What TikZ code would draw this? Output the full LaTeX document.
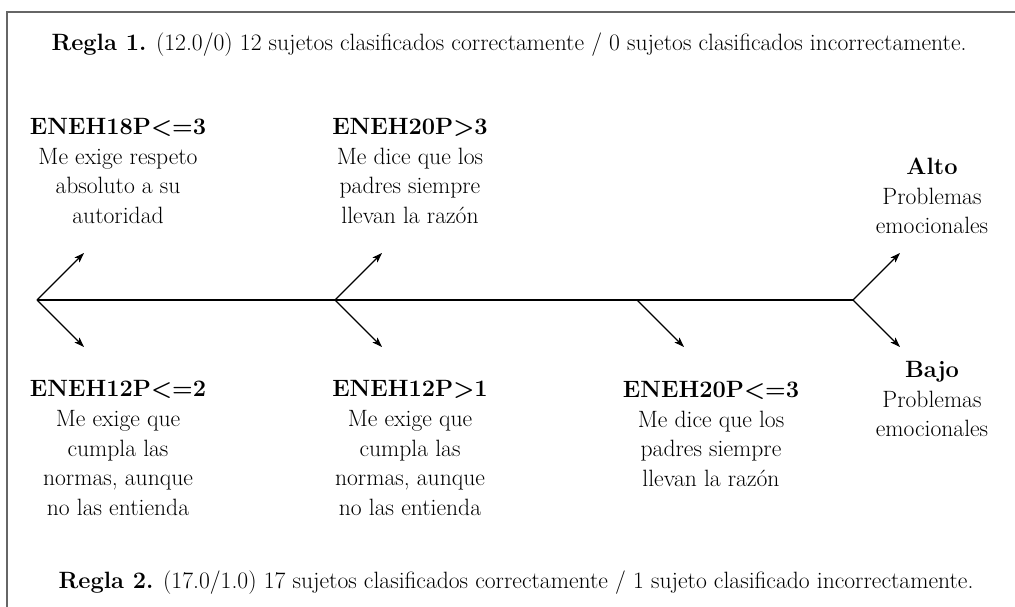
\documentclass[tikz,border=0pt]{standalone}
\usetikzlibrary{arrows.meta}
\usetikzlibrary{positioning}

\begin{document}
\begin{tikzpicture}[x=1pt,y=-1pt,
  every node/.style={font=\fontsize{23.6}{29.6}\selectfont,align=center,inner sep=0pt},
  rama/.style={-{Stealth[length=10pt,width=7pt,inset=2.5pt]},line width=1.1pt},
  marco/.style={draw=black!60,line width=1.3pt}]
  \useasboundingbox (0,0) rectangle (1015,607);
  \draw[marco] (7,607) -- (7,12) -- (1015,12);

  \node (regla1) at (509,45) {\textbf{Regla 1.} (12.0/0) 12 sujetos clasificados correctamente / 0 sujetos clasificados incorrectamente.};
  \node (regla2) at (516,583) {\textbf{Regla 2.} (17.0/1.0) 17 sujetos clasificados correctamente / 1 sujeto clasificado incorrectamente.};

  \node (eneh18) at (118,171) {\textbf{ENEH18P<=3}\\Me exige respeto\\absoluto a su\\autoridad};
  \node (eneh20a) at (410,171) {\textbf{ENEH20P>3}\\Me dice que los\\padres siempre\\llevan la razón};
  \node (alto) at (932,196) {\textbf{Alto}\\Problemas\\emocionales};
  \node (eneh12a) at (118,448) {\textbf{ENEH12P<=2}\\Me exige que\\cumpla las\\normas, aunque\\no las entienda};
  \node (eneh12b) at (410,448) {\textbf{ENEH12P>1}\\Me exige que\\cumpla las\\normas, aunque\\no las entienda};
  \node (eneh20b) at (711,434) {\textbf{ENEH20P<=3}\\Me dice que los\\padres siempre\\llevan la razón};
  \node (bajo) at (932,399) {\textbf{Bajo}\\Problemas\\emocionales};

  % horquillas
  \coordinate (h1) at (37,300);
  \coordinate (h2) at (335,300);
  \coordinate (h3) at (637,300);
  \coordinate (h4) at (853,300);
  \coordinate (p18) at (84,253);
  \coordinate (p12a) at (84,347);
  \coordinate (p20a) at (382,253);
  \coordinate (p12b) at (382,347);
  \coordinate (p20b) at (684,347);
  \coordinate (palto) at (900,253);
  \coordinate (pbajo) at (900,347);

  \draw[line width=1.1pt] (h1) -- (h4);
  \draw[rama] (h1) -- (p18);
  \draw[rama] (h1) -- (p12a);
  \draw[rama] (h2) -- (p20a);
  \draw[rama] (h2) -- (p12b);
  \draw[rama] (h3) -- (p20b);
  \draw[rama] (h4) -- (palto);
  \draw[rama] (h4) -- (pbajo);
\end{tikzpicture}
\end{document}
